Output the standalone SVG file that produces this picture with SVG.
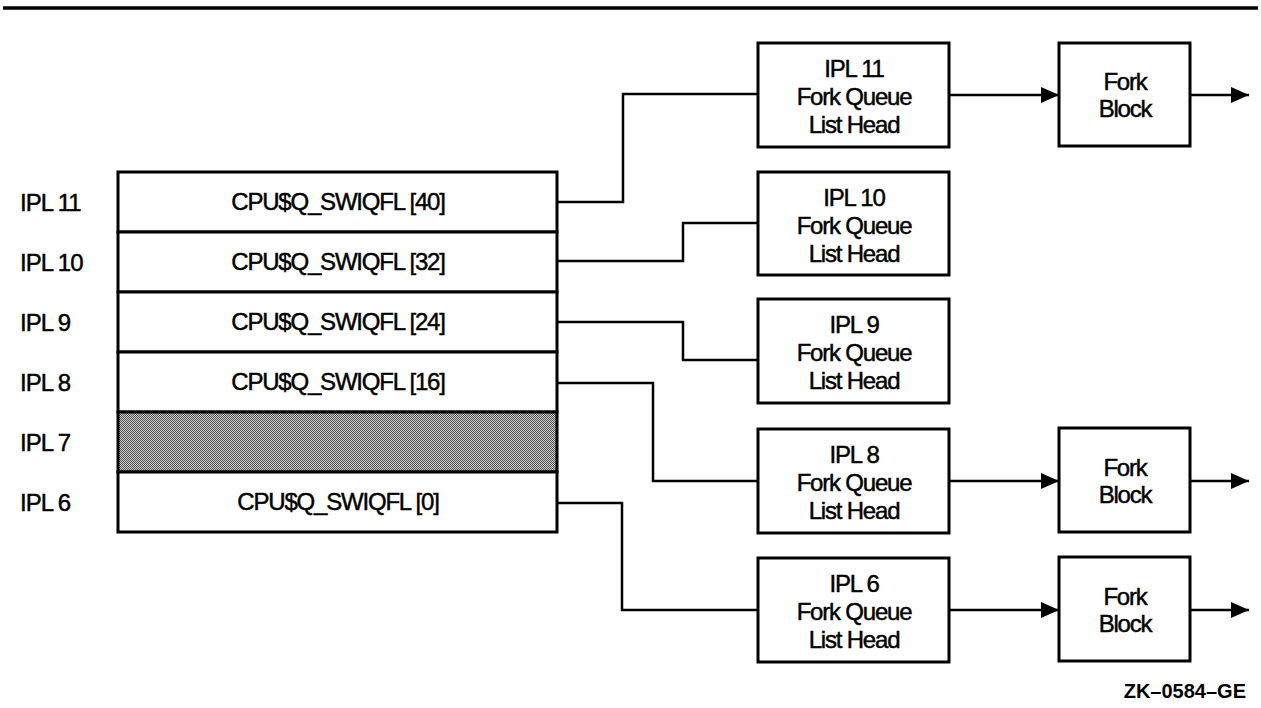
<svg xmlns="http://www.w3.org/2000/svg" width="1261" height="708" viewBox="0 0 1261 708">
<style>
.box{fill:#fff;stroke:#000;stroke-width:3}
.t{font-family:"Liberation Sans",Arial,Helvetica,sans-serif;font-size:24px;letter-spacing:-1.2px;fill:#000;stroke:#000;stroke-width:0.45;text-anchor:middle}
.l{font-family:"Liberation Sans",Arial,Helvetica,sans-serif;font-size:24px;letter-spacing:-1px;fill:#000;stroke:#000;stroke-width:0.45}
.c{fill:none;stroke:#000;stroke-width:2.5}
.a{fill:none;stroke:#000;stroke-width:2.5;marker-end:url(#ah)}
.id{font-family:"Liberation Sans",Arial,Helvetica,sans-serif;font-size:20px;font-weight:bold;fill:#000;text-anchor:end}
</style>
<defs>
<marker id="ah" markerUnits="userSpaceOnUse" markerWidth="18" markerHeight="16" refX="18" refY="8" orient="auto" viewBox="0 0 18 16">
<path d="M0,0 L18,8 L0,16 Z" fill="#000"/>
</marker>
<pattern id="dither" width="2" height="2" patternUnits="userSpaceOnUse">
<rect width="2" height="2" fill="#d4d4d4"/>
<rect width="1" height="1" fill="#4a4a4a"/>
<rect x="1" y="1" width="1" height="1" fill="#4a4a4a"/>
</pattern>
</defs>
<rect width="1261" height="708" fill="#fff"/>
<line x1="3" y1="8" x2="1258" y2="8" stroke="#000" stroke-width="3.5"/>

<g id="labels">
<text class="l" x="20" y="210.5">IPL 11</text>
<text class="l" x="20" y="270.5">IPL 10</text>
<text class="l" x="20" y="330.5">IPL 9</text>
<text class="l" x="20" y="390.5">IPL 8</text>
<text class="l" x="20" y="450.5">IPL 7</text>
<text class="l" x="20" y="510.5">IPL 6</text>
</g>

<g id="table">
<g id="row-ipl11"><rect class="box" x="118" y="172" width="439" height="60"/><text class="t" x="338" y="210">CPU$Q_SWIQFL [40]</text></g>
<g id="row-ipl10"><rect class="box" x="118" y="232" width="439" height="60"/><text class="t" x="338" y="270">CPU$Q_SWIQFL [32]</text></g>
<g id="row-ipl9"><rect class="box" x="118" y="292" width="439" height="60"/><text class="t" x="338" y="330">CPU$Q_SWIQFL [24]</text></g>
<g id="row-ipl8"><rect class="box" x="118" y="352" width="439" height="60"/><text class="t" x="338" y="390">CPU$Q_SWIQFL [16]</text></g>
<g id="row-ipl7"><rect x="118" y="412" width="439" height="60" fill="url(#dither)" stroke="#000" stroke-width="3"/></g>
<g id="row-ipl6"><rect class="box" x="118" y="472" width="439" height="60"/><text class="t" x="338" y="510">CPU$Q_SWIQFL [0]</text></g>
</g>

<g id="fq11"><rect class="box" x="758" y="43" width="191" height="104"/>
<text class="t" x="854" y="77">IPL 11</text><text class="t" x="854" y="105">Fork Queue</text><text class="t" x="854" y="133">List Head</text></g>
<g id="fq10"><rect class="box" x="758" y="172" width="191" height="103"/>
<text class="t" x="854" y="206">IPL 10</text><text class="t" x="854" y="234">Fork Queue</text><text class="t" x="854" y="262">List Head</text></g>
<g id="fq9"><rect class="box" x="758" y="299" width="191" height="104"/>
<text class="t" x="854" y="333">IPL 9</text><text class="t" x="854" y="361">Fork Queue</text><text class="t" x="854" y="389">List Head</text></g>
<g id="fq8"><rect class="box" x="758" y="429" width="191" height="104"/>
<text class="t" x="854" y="463">IPL 8</text><text class="t" x="854" y="491">Fork Queue</text><text class="t" x="854" y="519">List Head</text></g>
<g id="fq6"><rect class="box" x="758" y="558" width="191" height="104"/>
<text class="t" x="854" y="592">IPL 6</text><text class="t" x="854" y="620">Fork Queue</text><text class="t" x="854" y="648">List Head</text></g>

<g id="fb11"><rect class="box" x="1059" y="43" width="131" height="103"/>
<text class="t" x="1125" y="90">Fork</text><text class="t" x="1125" y="117">Block</text></g>
<g id="fb8"><rect class="box" x="1059" y="428" width="131" height="104"/>
<text class="t" x="1125" y="476">Fork</text><text class="t" x="1125" y="503">Block</text></g>
<g id="fb6"><rect class="box" x="1059" y="557" width="131" height="104"/>
<text class="t" x="1125" y="605">Fork</text><text class="t" x="1125" y="632">Block</text></g>

<g id="connectors">
<path class="c" d="M557,202 H623 V94 H758"/>
<path class="c" d="M557,261 H683 V223 H758"/>
<path class="c" d="M557,322 H683 V360 H758"/>
<path class="c" d="M557,383 H653 V481 H758"/>
<path class="c" d="M557,503 H622 V610 H758"/>
<path class="a" d="M949,95 H1059"/>
<path class="a" d="M1190,95 H1249"/>
<path class="a" d="M949,481 H1059"/>
<path class="a" d="M1190,481 H1249"/>
<path class="a" d="M949,610 H1059"/>
<path class="a" d="M1190,610 H1249"/>
</g>

<text class="id" x="1246" y="698">ZK–0584–GE</text>
</svg>
